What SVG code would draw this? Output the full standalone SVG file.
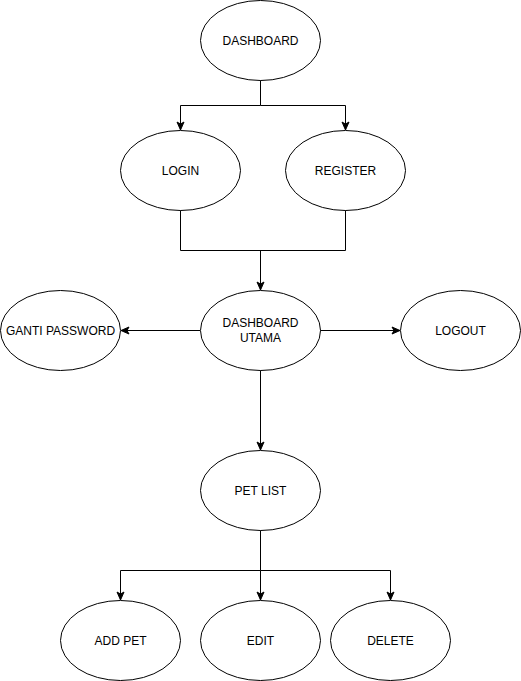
<svg xmlns="http://www.w3.org/2000/svg" width="521" height="681" viewBox="0 0 521 681">
<style>
.n ellipse{fill:#fff;stroke:#000;stroke-width:1}
.n text{font-family:"Liberation Sans",Arial,sans-serif;font-size:12px;fill:#000;text-anchor:middle}
.c path{fill:none;stroke:#000;stroke-width:1}
</style>
<defs>
<marker id="a" markerUnits="userSpaceOnUse" markerWidth="12" markerHeight="12" viewBox="-10 -6 12 12" refX="0" refY="0" orient="auto">
<path d="M0,0 L-8,-3.5 L-6,0 L-8,3.5 Z" fill="#000" stroke="#000" stroke-width="1"/>
</marker>
</defs>
<rect width="521" height="681" fill="#fff"/>
<g class="c">
<path d="M260.5,80 V105.5 H180.5 V130" marker-end="url(#a)"/>
<path d="M260.5,105.5 H345.5 V130" marker-end="url(#a)"/>
<path d="M180.5,210 V250.5 H345.5 V210"/>
<path d="M260.5,250.5 V290" marker-end="url(#a)"/>
<path d="M200,330.5 H121" marker-end="url(#a)"/>
<path d="M320,330.5 H400" marker-end="url(#a)"/>
<path d="M260.5,370 V450" marker-end="url(#a)"/>
<path d="M260.5,530 V570.5 H120.5 V600" marker-end="url(#a)"/>
<path d="M260.5,570.5 V600" marker-end="url(#a)"/>
<path d="M260.5,570.5 H390.5 V600" marker-end="url(#a)"/>
</g>
<g id="dashboard" class="n"><ellipse cx="260.5" cy="40.5" rx="60" ry="40"/><text x="260.5" y="44.5">DASHBOARD</text></g>
<g id="login" class="n"><ellipse cx="180.5" cy="170.5" rx="60" ry="40"/><text x="180.5" y="174.5">LOGIN</text></g>
<g id="register" class="n"><ellipse cx="345.5" cy="170.5" rx="60" ry="40"/><text x="345.5" y="174.5">REGISTER</text></g>
<g id="dashboard-utama" class="n"><ellipse cx="260.5" cy="330.5" rx="60" ry="40"/><text x="260.5" y="327">DASHBOARD</text><text x="260.5" y="342">UTAMA</text></g>
<g id="ganti-password" class="n"><ellipse cx="60.5" cy="330.5" rx="60" ry="40"/><text x="60.5" y="334.5">GANTI PASSWORD</text></g>
<g id="logout" class="n"><ellipse cx="460.5" cy="330.5" rx="60" ry="40"/><text x="460.5" y="334.5">LOGOUT</text></g>
<g id="pet-list" class="n"><ellipse cx="260.5" cy="490.5" rx="60" ry="40"/><text x="260.5" y="494.5">PET LIST</text></g>
<g id="add-pet" class="n"><ellipse cx="120.5" cy="640.5" rx="60" ry="40"/><text x="120.5" y="644.5">ADD PET</text></g>
<g id="edit" class="n"><ellipse cx="260.5" cy="640.5" rx="60" ry="40"/><text x="260.5" y="644.5">EDIT</text></g>
<g id="delete" class="n"><ellipse cx="390.5" cy="640.5" rx="60" ry="40"/><text x="390.5" y="644.5">DELETE</text></g>
</svg>
